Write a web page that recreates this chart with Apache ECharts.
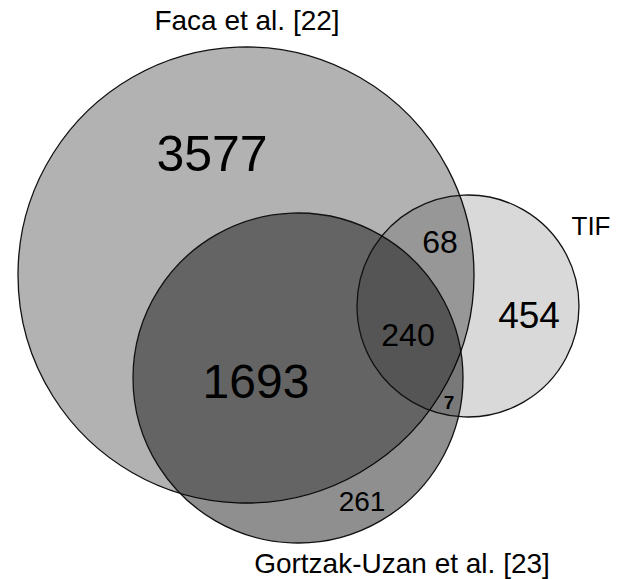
<!DOCTYPE html>
<html>
<head>
<meta charset="utf-8">
<script src="https://cdn.jsdelivr.net/npm/echarts@6/dist/echarts.min.js"></script>
<style>
html,body{margin:0;padding:0;background:#fff;}
#chart{width:620px;height:579px;}
</style>
</head>
<body>
<div id="chart"></div>
<script>
// Sets and region counts
const setNames = ['Faca et al. [22]', 'Gortzak-Uzan et al. [23]', 'TIF'];
const regionNames = ['Faca only', 'Faca & Gortzak-Uzan', 'Faca & TIF', 'All three', 'Gortzak-Uzan & TIF', 'TIF only', 'Gortzak-Uzan only'];
const regionCounts = [3577, 1693, 68, 240, 7, 454, 261];

// Layout (diagram geometry in plot units)
const circleX = [246, 298, 468];
const circleY = [275, 378, 306];
const circleR = [228, 165, 111];
const circleAlpha = [0.30, 0.44, 0.15];

const regionLabelX = [212, 256, 440, 408, 449, 529, 362];
const regionLabelY = [154, 381, 242, 335, 402, 315, 501];
const regionFont = [50, 48, 32, 32, 19, 37, 28];

const setLabelX = [247, 402, 591];
const setLabelY = [20, 563, 226];
const setLabelFont = [28, 28, 26];

const chart = echarts.init(document.getElementById('chart'), null, {renderer: 'svg'});

const circleData = setNames.map((n, i) => ({name: n, value: [circleX[i], circleY[i], circleR[i], circleAlpha[i]]}));
const regionData = regionCounts.map((c, i) => ({name: regionNames[i], value: [regionLabelX[i], regionLabelY[i], c, regionFont[i]]}));
const setLabelData = setNames.map((n, i) => ({name: n, value: [setLabelX[i], setLabelY[i], i, setLabelFont[i]]}));

const FONT = '"Liberation Sans", Arial, Helvetica, sans-serif';

chart.setOption({
  animation: false,
  grid: {left: 0, right: 0, top: 0, bottom: 0},
  xAxis: {type: 'value', min: 0, max: 620, show: false},
  yAxis: {type: 'value', min: 0, max: 579, inverse: true, show: false},
  series: [
    {
      type: 'custom',
      data: circleData,
      renderItem: function (params, api) {
        const c = api.coord([api.value(0), api.value(1)]);
        const r = api.size([api.value(2), 0])[0];
        return {
          type: 'circle',
          shape: {cx: c[0], cy: c[1], r: r},
          style: {fill: 'rgba(0,0,0,' + api.value(3) + ')', stroke: '#111', lineWidth: 1.3}
        };
      }
    },
    {
      type: 'custom',
      data: regionData,
      z: 5,
      renderItem: function (params, api) {
        const c = api.coord([api.value(0), api.value(1)]);
        const fs = api.value(3);
        return {
          type: 'text',
          x: c[0], y: c[1],
          style: {
            text: String(api.value(2)),
            x: 0, y: 0,
            align: 'center', verticalAlign: 'middle',
            fill: '#000',
            font: (fs < 22 ? 'bold ' : '') + fs + 'px ' + FONT
          }
        };
      }
    },
    {
      type: 'custom',
      data: setLabelData,
      z: 5,
      renderItem: function (params, api) {
        const c = api.coord([api.value(0), api.value(1)]);
        return {
          type: 'text',
          x: c[0], y: c[1],
          style: {
            text: setNames[api.value(2)],
            x: 0, y: 0,
            align: 'center', verticalAlign: 'middle',
            fill: '#000',
            font: api.value(3) + 'px ' + FONT
          }
        };
      }
    }
  ]
});
</script>
</body>
</html>
